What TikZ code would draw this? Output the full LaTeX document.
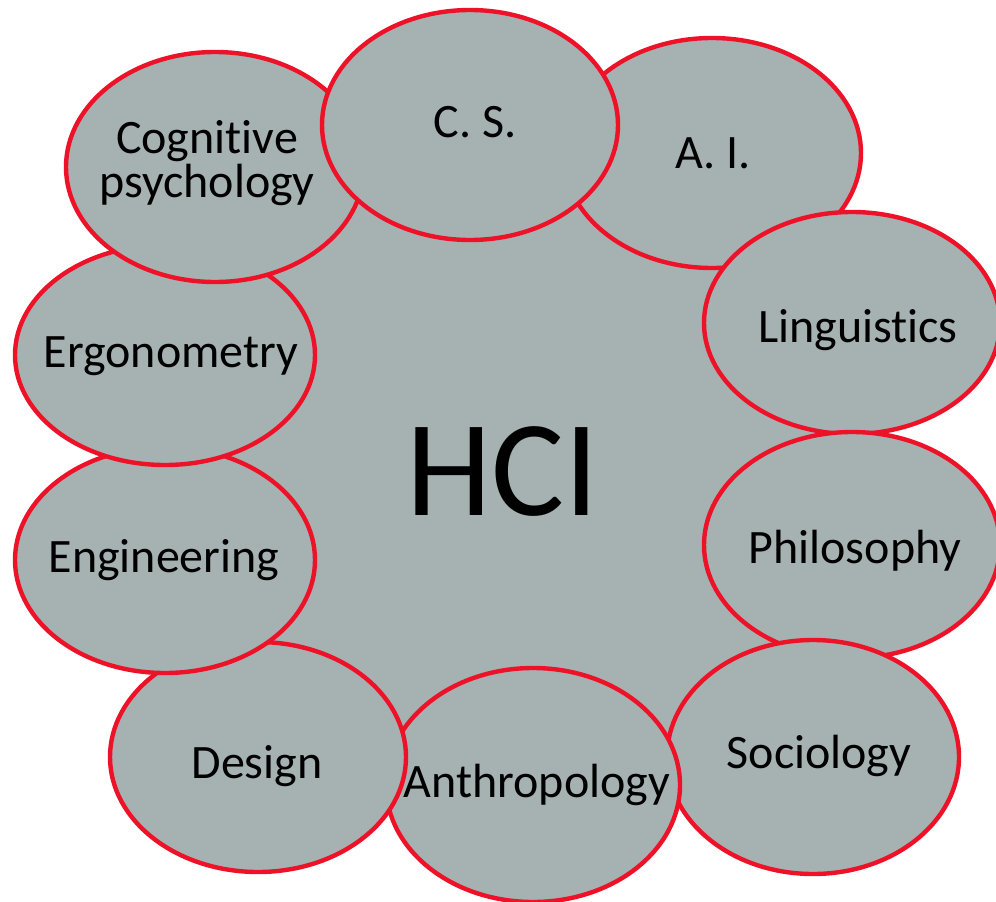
\documentclass[tikz,border=0pt]{standalone}
\usepackage{fontspec}
\setmainfont{Carlito}[Ligatures={NoCommon}]
\usetikzlibrary{shapes.geometric}
\definecolor{blobgray}{RGB}{166,177,177}
\definecolor{rimred}{RGB}{238,18,40}
\tikzset{
  field/.style={ellipse, draw=rimred, fill=blobgray, line width=4.4pt, inner sep=0pt},
  lbl/.style={anchor=base, inner sep=0pt, font=\fontsize{48}{48}\selectfont, text=black},
}
\begin{document}
\begin{tikzpicture}[x=1pt,y=-1pt]
\useasboundingbox (0,0) rectangle (996,902);
% central field
\fill[blobgray] (712,153) -- (852,323) -- (852,545) -- (813,757) -- (533,785) -- (258,757) -- (165,560) -- (165,355) -- (215,167) -- (470,125) -- cycle;
% ellipses, bottom to top
\node[field, minimum width=298pt, minimum height=230pt] (ai) at (712,153) {};
\node[field, minimum width=296pt, minimum height=222pt] (ling) at (852,323) {};
\node[field, minimum width=296pt, minimum height=226pt] (phil) at (852,545) {};
\node[field, minimum width=292pt, minimum height=234pt] (soc) at (813,757) {};
\node[field, minimum width=294pt, minimum height=234pt] (anth) at (533,785) {};
\node[field, minimum width=296pt, minimum height=230pt] (des) at (258,757) {};
\node[field, minimum width=300pt, minimum height=226pt] (eng) at (165,560) {};
\node[field, minimum width=300pt, minimum height=220pt] (ergo) at (165,355) {};
\node[field, minimum width=298pt, minimum height=230pt] (cog) at (215,167) {};
\node[field, minimum width=296pt, minimum height=230pt] (cs) at (470,125) {};
% labels
\node[lbl] (tcog1) at (207,153) {Cognitive};
\node[lbl] (tcog2) at (207,197) {psychology};
\node[lbl] (tcs) at (475,137) {C. S.};
\node[lbl] (tai) at (713,168) {A. I.};
\node[lbl] (tling) at (858,342) {Linguistics};
\node[lbl] (tphil) at (855,563) {Philosophy};
\node[lbl] (tsoc) at (819,768) {Sociology};
\node[lbl] (tanth) at (537,797) {Anthropology};
\node[lbl] (tdes) at (257,778) {Design};
\node[lbl] (teng) at (164,572) {Engineering};
\node[lbl] (tergo) at (171,367) {Ergonometry};
\node[anchor=base, inner sep=0pt, font=\fontsize{137}{137}\selectfont] (hci) at (503,515) {HCI};
\end{tikzpicture}
\end{document}
